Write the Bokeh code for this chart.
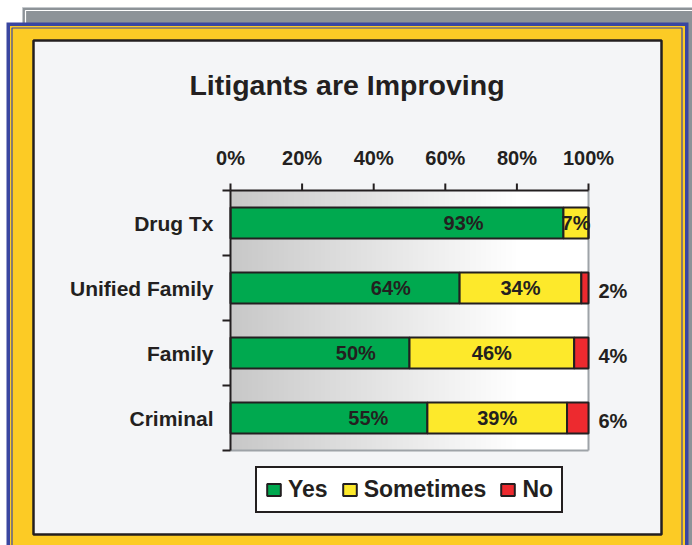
import numpy as np
from bokeh.plotting import figure
from bokeh.models import ColumnDataSource, Range1d, Legend, LegendItem
from bokeh.core.properties import value
from bokeh.embed import file_html
from bokeh.resources import INLINE

# ---------------- data ----------------
title = "Litigants are Improving"
categories = ["Drug Tx", "Unified Family", "Family", "Criminal"]
yes = [93, 64, 50, 55]
sometimes = [7, 34, 46, 39]
no = [0, 2, 4, 6]
x_ticks = [0, 20, 40, 60, 80, 100]
series_names = ["Yes", "Sometimes", "No"]

# ---------------- layout / style ----------------
W, H = 692, 545
FL, FR, FT, FB = 230, 588, 190, 450  # plot-area edges in canvas px
FONT = "Liberation Sans"
INK = "#231f20"
GREEN, YELLOW, RED = "#00a94f", "#fde92b", "#ed2a2f"
BLUE, GOLD, PANEL, GRAY = "#3a46a0", "#fccb25", "#f4f5f7", "#8d9398"
EDGE = "#9ea3a8"

n = len(categories)
ypos = [n - i - 0.5 for i in range(n)]
SX = (FR - FL) / 100.0      # px per percent
SY = (FB - FT) / float(n)   # px per category band


def px(x):  # canvas px -> data x
    return (x - FL) / SX


def py(y):  # canvas px -> data y
    return (FB - y) / SY


p = figure(width=W, height=H, x_range=Range1d(px(0), px(W)), y_range=Range1d(py(H), py(0)),
           x_axis_location=None, y_axis_location=None, min_border=0,
           output_backend="svg", toolbar_location=None,
           border_fill_color="white", background_fill_color="white", outline_line_color=None)
p.xgrid.visible = False
p.ygrid.visible = False


def rect(l, t, r, b, fill=None, line=None, lw=0):
    p.quad(left=px(l), right=px(r), top=py(t), bottom=py(b),
           fill_color=fill, fill_alpha=1.0 if fill else 0.0,
           line_color=line, line_width=lw, line_alpha=1.0 if line else 0.0)


# decorative frame
rect(22, 7, 720, 600, fill=GRAY, line="#c4c8cc", lw=1)
rect(25, 10, 720, 600, line="white", lw=1.2)
rect(6, 22, 688, 600, fill=BLUE)
rect(9.5, 25.5, 684.5, 600, fill=GOLD)
rect(11.5, 27.5, 681.5, 600, line=BLUE, lw=1.2)
rect(33, 40, 661, 534, fill=PANEL, line=INK, lw=2.5)

# plot-area gradient background
NG = 256
t = np.linspace(0, 1, NG)
g = np.clip(200 + 55 * t / 0.8, 0, 255).astype(np.uint8)
img = np.empty((1, NG), dtype=np.uint32)
view = img.view(dtype=np.uint8).reshape((1, NG, 4))
view[..., 0] = g
view[..., 1] = g
view[..., 2] = g
view[..., 3] = 255
p.image_rgba(image=[img], x=0, y=0, dw=100, dh=n)

# right / bottom edges of the plot area
p.segment(x0=[100, 0], y0=[0, 0], x1=[100, 100], y1=[n, 0], line_color=EDGE, line_width=2)

# bars
yes_end = list(yes)
some_end = [a + b for a, b in zip(yes, sometimes)]
no_end = [a + b for a, b in zip(some_end, no)]
src = ColumnDataSource(dict(y=ypos, yes_end=yes_end, some_end=some_end, no_end=no_end))
common = dict(y="y", height=0.48, line_color=INK, line_width=2, source=src)
r_yes = p.hbar(left=0, right="yes_end", fill_color=GREEN, **common)
r_some = p.hbar(left="yes_end", right="some_end", fill_color=YELLOW, **common)
r_no = p.hbar(left="some_end", right="no_end", fill_color=RED, **common)

# axes (drawn through the scales)
p.segment(x0=[0, 0], y0=[n, 0], x1=[100, 0], y1=[n, n], line_color=INK, line_width=2)
p.segment(x0=x_ticks, y0=[n] * len(x_ticks), x1=x_ticks, y1=[n + 7 / SY] * len(x_ticks),
          line_color=INK, line_width=2)
bounds = list(range(n + 1))
p.segment(x0=[0] * len(bounds), y0=bounds, x1=[-8 / SX] * len(bounds), y1=bounds,
          line_color=INK, line_width=2)

txt = dict(text_font=value(FONT), text_font_style="bold", text_color=INK)
p.text(x=x_ticks, y=[n + 32.5 / SY] * len(x_ticks), text=[f"{v}%" for v in x_ticks],
       text_align="center", text_baseline="middle", text_font_size="20px", **txt)
p.text(x=[-17 / SX] * n, y=ypos, text=categories, text_align="right", text_baseline="middle",
       text_font_size="21px", **txt)

# value labels
p.text(x=[v * 0.7 for v in yes], y=ypos, text=[f"{v}%" for v in yes], text_align="center",
       text_baseline="middle", text_font_size="20px", **txt)
p.text(x=[a + b / 2 for a, b in zip(yes, sometimes)], y=ypos, text=[f"{v}%" for v in sometimes],
       text_align="center", text_baseline="middle", text_font_size="20px", **txt)
no_idx = [i for i, v in enumerate(no) if v > 0]
p.text(x=[100] * len(no_idx), y=[ypos[i] - 3 / SY for i in no_idx],
       text=[f"{no[i]}%" for i in no_idx], x_offset=10, text_align="left",
       text_baseline="middle", text_font_size="20px", **txt)

# title
p.text(x=[px(346.5)], y=[py(84)], text=[title], text_align="center", text_baseline="middle",
       text_font_size="28.5px", **txt)

# legend
legend = Legend(items=[LegendItem(label=s, renderers=[r]) for s, r in
                       zip(series_names, [r_yes, r_some, r_no])],
                orientation="horizontal", location=(255, H - 513),
                label_text_font=FONT, label_text_font_size="23px", label_text_font_style="bold",
                label_text_color=INK, glyph_width=17, glyph_height=15, label_standoff=6,
                spacing=13, padding=8, margin=0, border_line_color=INK, border_line_width=2,
                border_line_alpha=1.0, background_fill_color="white", background_fill_alpha=1.0)
p.add_layout(legend)

open("out.html", "w").write(file_html(p, INLINE))
